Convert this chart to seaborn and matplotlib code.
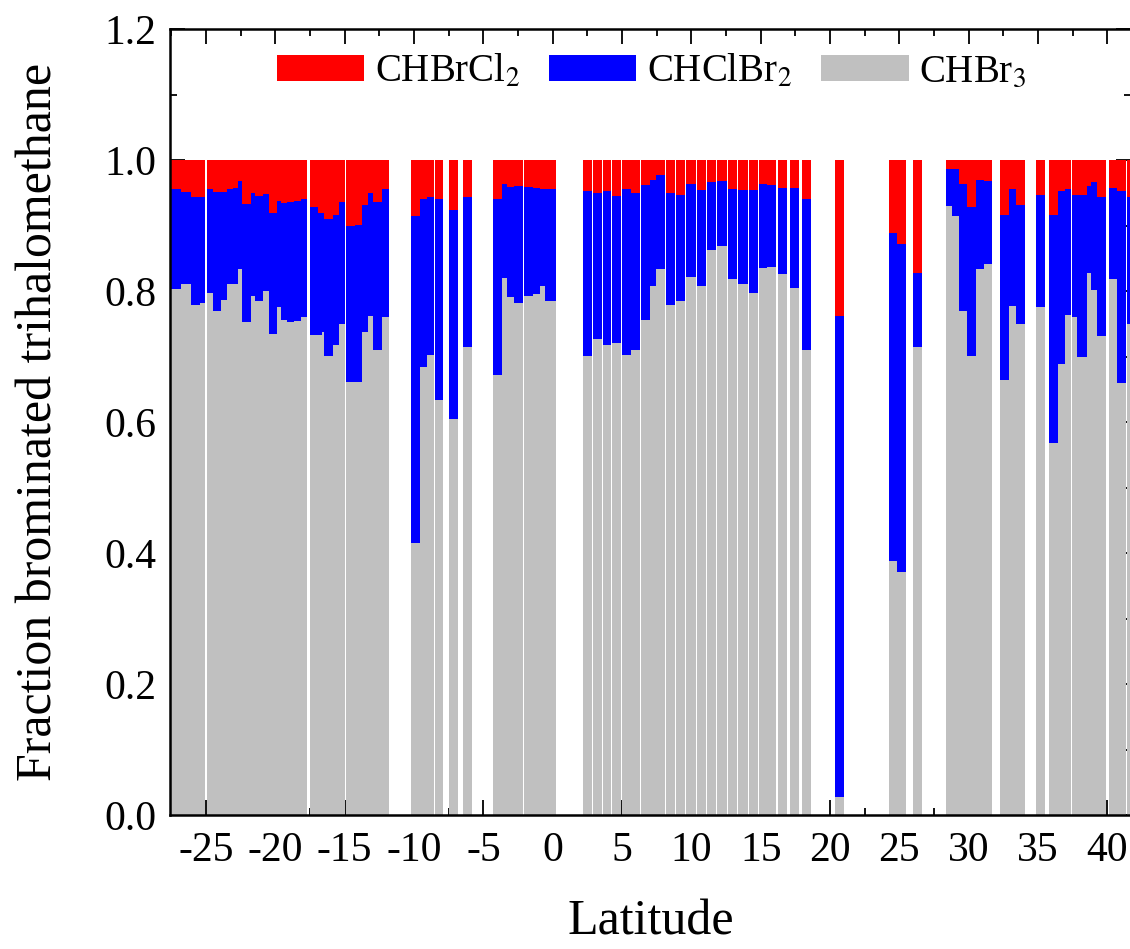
import numpy as np
import pandas as pd
import matplotlib
matplotlib.use("Agg")
import matplotlib.pyplot as plt
from matplotlib.ticker import MultipleLocator, FormatStrFormatter
import seaborn as sns

# ---- data: one bar per sample (latitude span), fractions of each THM ----
lat_left = [-27.70, -26.83, -26.11, -25.44, -24.95, -24.48, -23.95, -23.51, -23.08, -22.72,
            -22.43, -21.76, -21.47, -20.87, -20.48, -19.86, -19.62, -19.19, -18.66, -18.18,
            -17.50, -16.95, -16.66, -16.50, -15.87, -15.39, -14.93, -14.26, -13.78, -13.30,
            -12.98, -12.33, -10.22, -9.57, -9.04, -8.49, -7.48, -6.47, -4.28, -3.64,
            -3.27, -2.79, -2.07, -1.40, -0.92, -0.56, 2.21, 2.89, 3.61, 4.28,
            4.98, 5.67, 6.35, 7.02, 7.47, 8.17, 8.89, 9.61, 10.39, 11.11,
            11.85, 12.62, 13.39, 14.16, 14.90, 15.48, 16.27, 17.12, 17.98, 20.36,
            24.28, 24.85, 25.97, 28.37, 28.82, 29.30, 29.86, 30.53, 31.11, 32.26,
            32.89, 33.42, 34.84, 35.82, 36.47, 36.95, 37.43, 37.84, 38.51, 38.80,
            39.28, 40.12, 40.72, 41.40]
lat_right = [-26.83, -26.11, -25.44, -25.06, -24.48, -23.95, -23.51, -23.08, -22.72, -22.43,
             -21.76, -21.47, -20.87, -20.48, -19.86, -19.62, -19.19, -18.66, -18.18, -17.72,
             -16.95, -16.66, -16.50, -15.87, -15.39, -14.98, -14.26, -13.78, -13.30, -12.98,
             -12.33, -11.81, -9.57, -9.04, -8.56, -7.89, -6.85, -5.82, -3.64, -3.27,
             -2.79, -2.16, -1.40, -0.92, -0.56, 0.22, 2.83, 3.56, 4.23, 4.93,
             5.63, 6.30, 7.02, 7.43, 8.10, 8.82, 9.54, 10.31, 11.04, 11.78,
             12.55, 13.31, 14.06, 14.83, 15.48, 16.11, 16.92, 17.79, 18.65, 21.01,
             24.85, 25.48, 26.61, 28.82, 29.30, 29.86, 30.53, 31.11, 31.71, 32.89,
             33.42, 34.09, 35.51, 36.47, 36.95, 37.38, 37.84, 38.51, 38.80, 39.28,
             39.91, 40.72, 41.35, 41.80]
chbr3 = [.803, .811, .778, .781, .797, .769, .786, .810, .810, .833,
         .752, .793, .784, .800, .734, .776, .755, .753, .754, .761,
         .733, .733, .738, .701, .718, .749, .661, .661, .737, .762,
         .710, .760, .416, .684, .703, .633, .605, .715, .671, .820,
         .791, .782, .793, .796, .807, .784, .700, .727, .718, .721,
         .702, .710, .755, .808, .833, .779, .785, .821, .807, .863,
         .869, .818, .811, .797, .835, .837, .826, .804, .710, .027,
         .388, .371, .715, .930, .914, .770, .700, .833, .841, .664,
         .777, .749, .776, .568, .688, .764, .760, .699, .828, .801,
         .732, .818, .660, .749]
chclbr2 = [.153, .140, .165, .163, .159, .182, .165, .146, .148, .135,
           .181, .157, .161, .148, .185, .161, .180, .183, .183, .179,
           .195, .186, .181, .209, .198, .187, .238, .239, .195, .187,
           .226, .195, .498, .256, .240, .307, .318, .229, .270, .143,
           .168, .178, .166, .161, .148, .171, .252, .222, .235, .224,
           .253, .239, .207, .161, .144, .170, .161, .143, .147, .103,
           .099, .137, .143, .157, .128, .125, .132, .154, .230, .735,
           .500, .501, .112, .057, .072, .193, .229, .136, .127, .252,
           .179, .183, .171, .348, .264, .191, .186, .248, .132, .166,
           .212, .140, .292, .195]
chbrcl2 = [.044, .049, .057, .056, .044, .049, .049, .044, .042, .032,
           .067, .050, .055, .052, .081, .063, .065, .064, .063, .060,
           .072, .081, .081, .090, .084, .064, .101, .100, .068, .051,
           .064, .045, .086, .060, .057, .060, .077, .056, .059, .037,
           .041, .040, .041, .043, .045, .045, .048, .051, .047, .055,
           .045, .051, .038, .031, .023, .051, .054, .036, .046, .034,
           .032, .045, .046, .046, .037, .038, .042, .042, .060, .238,
           .112, .128, .173, .013, .014, .037, .071, .031, .032, .084,
           .044, .068, .053, .084, .048, .045, .054, .053, .040, .033,
           .056, .042, .048, .056]

species = ['CHBrCl$_2$', 'CHClBr$_2$', 'CHBr$_3$']
colors = ['#ff0000', '#0000ff', '#c0c0c0']
x_major = [-25, -20, -15, -10, -5, 0, 5, 10, 15, 20, 25, 30, 35, 40]
y_major = [0.0, 0.2, 0.4, 0.6, 0.8, 1.0, 1.2]

# ---- style ----
sns.set_theme(style="ticks")
plt.rcParams['font.family'] = ['Liberation Serif', 'DejaVu Serif']
plt.rcParams['mathtext.fontset'] = 'stix'
plt.rcParams['axes.unicode_minus'] = False
for key in ['text.color', 'axes.labelcolor', 'xtick.color', 'ytick.color',
            'xtick.labelcolor', 'ytick.labelcolor', 'axes.edgecolor']:
    plt.rcParams[key] = 'black'

rows = []
for l, r, a, b, c in zip(lat_left, lat_right, chbr3, chclbr2, chbrcl2):
    centre = (l + r) / 2
    rows.append((centre, species[0], c))
    rows.append((centre, species[1], b))
    rows.append((centre, species[2], a))
df = pd.DataFrame(rows, columns=['lat', 'species', 'frac'])
edges = sorted(set(lat_left) | set(lat_right))

fig = plt.figure(figsize=(11.3, 9.49), dpi=100)
ax = fig.add_axes([170 / 1130, 134 / 949, 961 / 1130, 786 / 949])

sns.histplot(data=df, x='lat', weights='frac', hue='species', hue_order=species,
             bins=edges, multiple='stack', palette=colors, element='bars',
             linewidth=0, alpha=1, ax=ax, legend=True)

ax.set_xlim(-27.6, 41.7)
ax.set_ylim(0, 1.2)
ax.set_xticks(x_major)
ax.xaxis.set_minor_locator(MultipleLocator(2.5))
ax.set_yticks(y_major)
ax.yaxis.set_minor_locator(MultipleLocator(0.1))
ax.yaxis.set_major_formatter(FormatStrFormatter('%.1f'))
ax.tick_params(which='both', direction='in', top=True, right=True,
               width=1.3, color='black', labelcolor='black', labelsize=30)
ax.tick_params(axis='x', which='both', pad=12)
ax.tick_params(axis='y', which='both', pad=10)
ax.tick_params(which='major', length=11)
ax.tick_params(which='minor', length=5.3)
for s in ax.spines.values():
    s.set_linewidth(1.8)
    s.set_color('black')

ax.set_xlabel('Latitude', fontsize=36, labelpad=21, color='black')
ax.set_ylabel('Fraction brominated trihalomethane', fontsize=36, labelpad=30,
              color='black')

sns.move_legend(ax, 'upper left', bbox_to_anchor=(0.1113, 0.969), ncol=3,
                title=None, frameon=False, fontsize=28, borderpad=0,
                handlelength=2.24, handleheight=0.64, handletextpad=0.28,
                columnspacing=0.75, borderaxespad=0)

fig.savefig('out.png', dpi=100)
